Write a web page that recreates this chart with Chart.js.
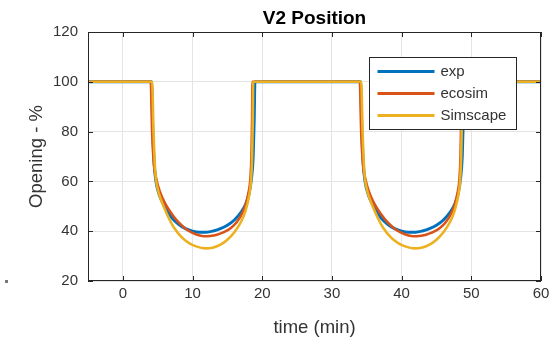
<!DOCTYPE html>
<html>
<head>
<meta charset="utf-8">
<script src="https://cdn.jsdelivr.net/npm/chart.js@4/dist/chart.umd.min.js"></script>
<style>
  html, body { margin: 0; padding: 0; background: #fff; }
</style>
</head>
<body>
<canvas id="v2pos" width="550" height="341"></canvas>
<script>
const seriesNames = ['exp', 'ecosim', 'Simscape'];
const seriesColors = ['#0072BD', '#D95319', '#EDB120'];
const xTicks = [0, 10, 20, 30, 40, 50, 60];
const yTicks = [20, 40, 60, 80, 100, 120];

// measured valve opening, two close/open cycles
const expTime = [-5, 4.1, 4.3, 4.5, 4.75, 5.3, 6.0, 7, 8, 9, 10, 11, 12, 13, 14, 15, 16, 17, 17.65, 18.1, 18.45, 18.7, 18.85, 18.95,
  34.1, 34.3, 34.5, 34.75, 35.3, 36.0, 37, 38, 39, 40, 41, 42, 43, 44, 45, 46, 47, 47.65, 48.1, 48.45, 48.7, 48.85, 48.95, 60];
const expValue = [100, 100, 80, 67, 60, 54, 50, 45.5, 42.8, 41, 40, 39.6, 39.6, 40.1, 41, 42.4, 44.5, 47.8, 51, 55, 61, 70, 85, 100,
  100, 80, 67, 60, 54, 50, 45.5, 42.8, 41, 40, 39.6, 39.6, 40.1, 41, 42.4, 44.5, 47.8, 51, 55, 61, 70, 85, 100, 100];

// ecosim model output
const ecoTime = [-5, 4.0, 4.2, 4.45, 4.8, 5.3, 6, 7, 8, 9, 10, 11, 11.7, 12.5, 13.5, 14.5, 15.5, 16.3, 17, 17.6, 18, 18.3, 18.45, 18.55, 18.6,
  34.0, 34.2, 34.45, 34.8, 35.3, 36, 37, 38, 39, 40, 41, 41.7, 42.5, 43.5, 44.5, 45.5, 46.3, 47, 47.6, 48, 48.3, 48.45, 48.55, 48.6, 60];
const ecoValue = [100, 100, 80, 67, 61, 56, 51.5, 47, 43.5, 41, 39.3, 38.3, 38, 38.1, 38.6, 39.6, 41.3, 43.5, 46.5, 50.5, 55, 61, 70, 85, 100,
  100, 80, 67, 61, 56, 51.5, 47, 43.5, 41, 39.3, 38.3, 38, 38.1, 38.6, 39.6, 41.3, 43.5, 46.5, 50.5, 55, 61, 70, 85, 100, 100];

// Simscape model output
const simTime = [-5, 4.2, 4.4, 4.65, 5.0, 5.5, 6.0, 6.6, 7.3, 8.5, 9.5, 10.5, 11.8, 13, 14, 15, 16, 17, 17.6, 18.1, 18.4, 18.55, 18.65, 18.7,
  34.2, 34.4, 34.65, 35.0, 35.5, 36.0, 36.6, 37.3, 38.5, 39.5, 40.5, 41.8, 43, 44, 45, 46, 47, 47.6, 48.1, 48.4, 48.55, 48.65, 48.7, 60];
const simValue = [100, 100, 80, 64, 57, 52.5, 49, 45.2, 41.6, 37.4, 35.2, 33.9, 33.1, 33.5, 34.6, 36.6, 39.6, 44, 48.2, 54, 60.5, 70, 85, 100,
  100, 80, 64, 57, 52.5, 49, 45.2, 41.6, 37.4, 35.2, 33.9, 33.1, 33.5, 34.6, 36.6, 39.6, 44, 48.2, 54, 60.5, 70, 85, 100, 100];

const fontFamily = '"Liberation Sans", Arial, Helvetica, sans-serif';
const inkColor = '#333333';

function points(ts, vs) {
  return ts.map((t, i) => ({ x: t, y: vs[i] }));
}

// box, inward ticks, in-plot legend and the stray marker left of the axis
const framePlugin = {
  id: 'frame',
  afterDatasetsDraw(chart) {
    const { ctx, chartArea: a, scales: { x, y } } = chart;
    ctx.save();
    ctx.strokeStyle = '#262626';
    ctx.lineWidth = 1;
    ctx.beginPath();
    xTicks.forEach(v => {
      const px = Math.round(x.getPixelForValue(v)) + 0.5;
      ctx.moveTo(px, a.bottom); ctx.lineTo(px, a.bottom - 5);
      ctx.moveTo(px, a.top); ctx.lineTo(px, a.top + 5);
    });
    yTicks.forEach(v => {
      const py = Math.round(y.getPixelForValue(v)) + 0.5;
      ctx.moveTo(a.left, py); ctx.lineTo(a.left + 5, py);
      ctx.moveTo(a.right, py); ctx.lineTo(a.right - 5, py);
    });
    ctx.stroke();
    ctx.strokeRect(Math.round(a.left) + 0.5, Math.round(a.top) + 0.5,
      Math.round(a.width) - 1, Math.round(a.height) - 1);

    // legend
    const bw = 147, bh = 72;
    const bx = Math.round(a.right - 25 - bw) + 0.5;
    const by = Math.round(a.top + 25) + 0.5;
    ctx.fillStyle = '#ffffff';
    ctx.fillRect(bx, by, bw, bh);
    ctx.strokeStyle = '#262626';
    ctx.strokeRect(bx, by, bw, bh);
    ctx.font = '15px ' + fontFamily;
    ctx.textBaseline = 'middle';
    ctx.textAlign = 'left';
    seriesNames.forEach((name, i) => {
      const ly = by + 14 + i * 22;
      ctx.strokeStyle = seriesColors[i];
      ctx.lineWidth = 3;
      ctx.beginPath();
      ctx.moveTo(bx + 8, ly);
      ctx.lineTo(bx + 65, ly);
      ctx.stroke();
      ctx.fillStyle = inkColor;
      ctx.fillText(name, bx + 71, ly);
    });

    ctx.fillStyle = '#777777';
    ctx.fillRect(5, 280, 3, 3);
    ctx.restore();
  }
};

new Chart(document.getElementById('v2pos'), {
  type: 'line',
  data: {
    datasets: [
      { label: seriesNames[0], data: points(expTime, expValue), borderColor: seriesColors[0], borderWidth: 3, order: 2 },
      { label: seriesNames[1], data: points(ecoTime, ecoValue), borderColor: seriesColors[1], order: 1 },
      { label: seriesNames[2], data: points(simTime, simValue), borderColor: seriesColors[2], order: 0 }
    ]
  },
  options: {
    responsive: false,
    animation: false,
    devicePixelRatio: 1,
    layout: { padding: { left: 0, right: 9, top: 0, bottom: 0 } },
    elements: {
      point: { radius: 0 },
      line: { borderWidth: 2.6, cubicInterpolationMode: 'monotone', fill: false }
    },
    plugins: {
      legend: { display: false },
      tooltip: { enabled: false },
      title: {
        display: true,
        text: 'V2 Position',
        fullSize: false,
        color: '#000000',
        font: { family: fontFamily, size: 19, weight: 'bold' },
        padding: { top: 7, bottom: 2.2 }
      }
    },
    scales: {
      x: {
        type: 'linear',
        min: -5,
        max: 60,
        afterBuildTicks: s => { s.ticks = xTicks.map(v => ({ value: v })); },
        afterFit: s => { s.height = 60; s.paddingLeft = 0; s.paddingRight = 0; },
        grid: { color: '#e4e4e4', drawTicks: false },
        border: { display: false },
        ticks: { color: inkColor, padding: 4, maxRotation: 0, font: { family: fontFamily, size: 15 } },
        title: {
          display: true,
          text: 'time (min)',
          color: inkColor,
          font: { family: fontFamily, size: 18.5 },
          padding: { top: 0, bottom: 1.5 }
        }
      },
      y: {
        min: 20,
        max: 120,
        afterBuildTicks: s => { s.ticks = yTicks.map(v => ({ value: v })); },
        afterFit: s => { s.width = 88; },
        grid: { color: '#e4e4e4', drawTicks: false },
        border: { display: false },
        ticks: { color: inkColor, padding: 10, font: { family: fontFamily, size: 15 } },
        title: {
          display: true,
          text: 'Opening - %',
          color: inkColor,
          font: { family: fontFamily, size: 18.5 },
          padding: { top: 25.5, bottom: 0 }
        }
      }
    }
  },
  plugins: [framePlugin]
});
</script>
</body>
</html>
